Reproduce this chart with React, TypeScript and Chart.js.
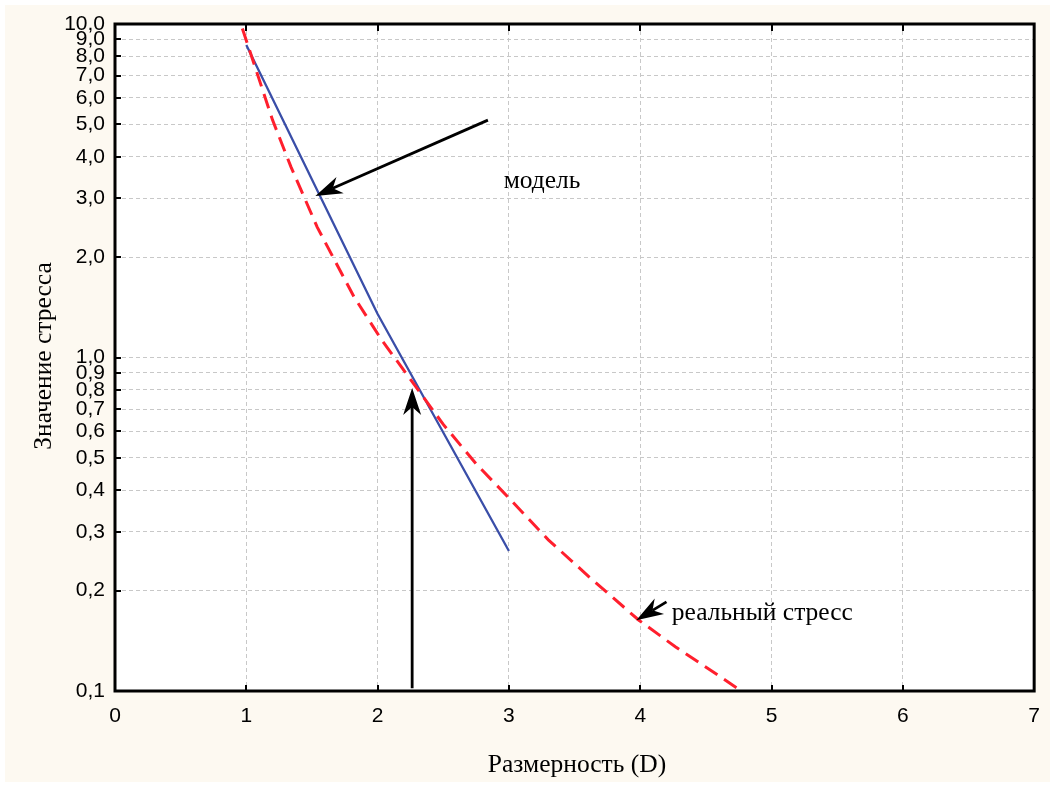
import React, { useEffect, useRef } from "react";
import { Chart, registerables } from "chart.js";
Chart.register(...registerables);

const xTicks = [0, 1, 2, 3, 4, 5, 6, 7];
const xTickLabels = ["0", "1", "2", "3", "4", "5", "6", "7"];
const yTicks = [0.1, 0.2, 0.3, 0.4, 0.5, 0.6, 0.7, 0.8, 0.9, 1, 2, 3, 4, 5, 6, 7, 8, 9, 10];
const yTickLabels = ["0,1", "0,2", "0,3", "0,4", "0,5", "0,6", "0,7", "0,8", "0,9", "1,0", "2,0", "3,0", "4,0", "5,0", "6,0", "7,0", "8,0", "9,0", "10,0"];

const modelX = [1, 2, 3];
const modelY = [8.65, 1.35, 0.263];

const realX = [0.97, 1.2, 1.34, 1.54, 1.82, 2.03, 2.25, 2.5, 2.75, 3.0, 3.3, 3.61, 3.99, 4.27, 4.59, 4.77];
const realY = [9.7, 5.15, 3.73, 2.46, 1.52, 1.13, 0.86, 0.63, 0.48, 0.379, 0.284, 0.22, 0.163, 0.1355, 0.1117, 0.1];

const xTitle = "Размерность (D)";
const yTitle = "Значение стресса";

const arrowTailX = [2.84, 2.263, 4.2];
const arrowTailY = [5.15, 0.102, 0.185];
const arrowTipX = [1.526, 2.263, 3.97];
const arrowTipY = [3.05, 0.81, 0.163];

const noteText = ["модель", "реальный стресс"];
const noteX = [2.96, 4.24];
const noteY = [3.22, 0.163];

const SERIF = '"Liberation Serif", "Times New Roman", serif';
const SANS = '"Liberation Sans Narrow", "Arial Narrow", "Liberation Sans", Arial, sans-serif';

function drawArrow(ctx: CanvasRenderingContext2D, x1: number, y1: number, x2: number, y2: number) {
  const dx = x2 - x1, dy = y2 - y1;
  const len = Math.hypot(dx, dy);
  const ux = dx / len, uy = dy / len;
  const nx = -uy, ny = ux;
  const L = 27, W = 9, N = 19;
  ctx.save();
  ctx.strokeStyle = "#000";
  ctx.fillStyle = "#000";
  ctx.lineWidth = 2.8;
  ctx.beginPath();
  ctx.moveTo(x1, y1);
  ctx.lineTo(x2 - ux * N, y2 - uy * N);
  ctx.stroke();
  ctx.beginPath();
  ctx.moveTo(x2, y2);
  ctx.lineTo(x2 - ux * L + nx * W, y2 - uy * L + ny * W);
  ctx.lineTo(x2 - ux * N, y2 - uy * N);
  ctx.lineTo(x2 - ux * L - nx * W, y2 - uy * L - ny * W);
  ctx.closePath();
  ctx.fill();
  ctx.restore();
}

const framePlugin = {
  id: "frame",
  beforeDraw(chart: any) {
    const ctx = chart.ctx as CanvasRenderingContext2D;
    const a = chart.chartArea;
    ctx.save();
    ctx.fillStyle = "#ffffff";
    ctx.fillRect(0, 0, chart.width, chart.height);
    ctx.fillStyle = "#fdf9f1";
    ctx.fillRect(5, 5, chart.width - 8, chart.height - 8);
    ctx.fillStyle = "#ffffff";
    ctx.fillRect(a.left, a.top, a.right - a.left, a.bottom - a.top);
    ctx.restore();
  },
  afterDraw(chart: any) {
    const ctx = chart.ctx as CanvasRenderingContext2D;
    const a = chart.chartArea;
    const xs = chart.scales.x;
    const ys = chart.scales.y;
    ctx.save();
    ctx.strokeStyle = "#000";
    ctx.lineWidth = 2;
    ctx.beginPath();
    xTicks.forEach((v) => {
      if (v === 0 || v === 7) return;
      const px = Math.round(xs.getPixelForValue(v));
      ctx.moveTo(px, a.top);
      ctx.lineTo(px, a.top + 7);
      ctx.moveTo(px, a.bottom);
      ctx.lineTo(px, a.bottom - 6);
    });
    yTicks.forEach((v) => {
      const py = Math.round(ys.getPixelForValue(v));
      ctx.moveTo(a.left, py);
      ctx.lineTo(a.left + 6, py);
    });
    ctx.stroke();
    ctx.lineWidth = 3;
    ctx.strokeRect(a.left, a.top, a.right - a.left, a.bottom - a.top);

    arrowTailX.forEach((_, i) => {
      drawArrow(
        ctx,
        xs.getPixelForValue(arrowTailX[i]),
        ys.getPixelForValue(arrowTailY[i]),
        xs.getPixelForValue(arrowTipX[i]),
        ys.getPixelForValue(arrowTipY[i])
      );
    });

    ctx.fillStyle = "#000";
    ctx.font = `25.5px ${SERIF}`;
    ctx.textAlign = "left";
    ctx.textBaseline = "alphabetic";
    noteText.forEach((t, i) => {
      ctx.fillText(t, xs.getPixelForValue(noteX[i]), ys.getPixelForValue(noteY[i]));
    });

    ctx.font = `25.5px ${SERIF}`;
    ctx.textAlign = "center";
    ctx.textBaseline = "middle";
    ctx.fillText(xTitle, 577, 765);
    ctx.translate(44, 356);
    ctx.rotate(-Math.PI / 2);
    ctx.fillText(yTitle, 0, 0);
    ctx.restore();
  },
};

export default function App() {
  const ref = useRef<HTMLCanvasElement | null>(null);
  useEffect(() => {
    if (!ref.current) return;
    const chart = new Chart(ref.current, {
      type: "scatter",
      data: {
        datasets: [
          {
            label: "реальный стресс",
            data: realX.map((x, i) => ({ x, y: realY[i] })),
            showLine: true,
            borderColor: "#ff1f2d",
            backgroundColor: "#ff1f2d",
            borderWidth: 3,
            borderDash: [15, 8],
            pointRadius: 0,
            tension: 0,
          },
          {
            label: "модель",
            data: modelX.map((x, i) => ({ x, y: modelY[i] })),
            showLine: true,
            borderColor: "#3a4ea8",
            backgroundColor: "#3a4ea8",
            borderWidth: 2.3,
            pointRadius: 0,
            tension: 0,
          },
        ],
      },
      options: {
        responsive: false,
        animation: false,
        events: [],
        layout: { padding: { left: 0, top: 24, right: 16, bottom: 0 } },
        plugins: { legend: { display: false }, tooltip: { enabled: false } },
        scales: {
          x: {
            type: "linear",
            min: 0,
            max: 7,
            afterBuildTicks: (s: any) => {
              s.ticks = xTicks.map((v) => ({ value: v }));
            },
            afterFit: (s: any) => {
              s.height = 94;
            },
            ticks: {
              autoSkip: false,
              maxRotation: 0,
              padding: 13,
              color: "#000",
              font: { family: SANS, size: 21 },
              callback: (_v: any, i: number) => xTickLabels[i],
            },
            grid: { color: "#c8c8c8", lineWidth: 1, drawTicks: false },
            border: { display: false, dash: [4, 3] },
          },
          y: {
            type: "logarithmic",
            min: 0.1,
            max: 10,
            afterBuildTicks: (s: any) => {
              s.ticks = yTicks.map((v) => ({ value: v }));
            },
            afterFit: (s: any) => {
              s.width = 115;
            },
            ticks: {
              autoSkip: false,
              padding: 10,
              color: "#000",
              font: { family: SANS, size: 21 },
              callback: (_v: any, i: number) => yTickLabels[i],
            },
            grid: { color: "#c8c8c8", lineWidth: 1, drawTicks: false },
            border: { display: false, dash: [4, 3] },
          },
        },
      },
      plugins: [framePlugin],
    } as any);
    return () => chart.destroy();
  }, []);
  return (
    <div style={{ position: "fixed", left: 0, top: 0, width: 1053, height: 785, background: "#fff" }}>
      <canvas ref={ref} width={1053} height={785} style={{ display: "block", width: 1053, height: 785 }} />
    </div>
  );
}
